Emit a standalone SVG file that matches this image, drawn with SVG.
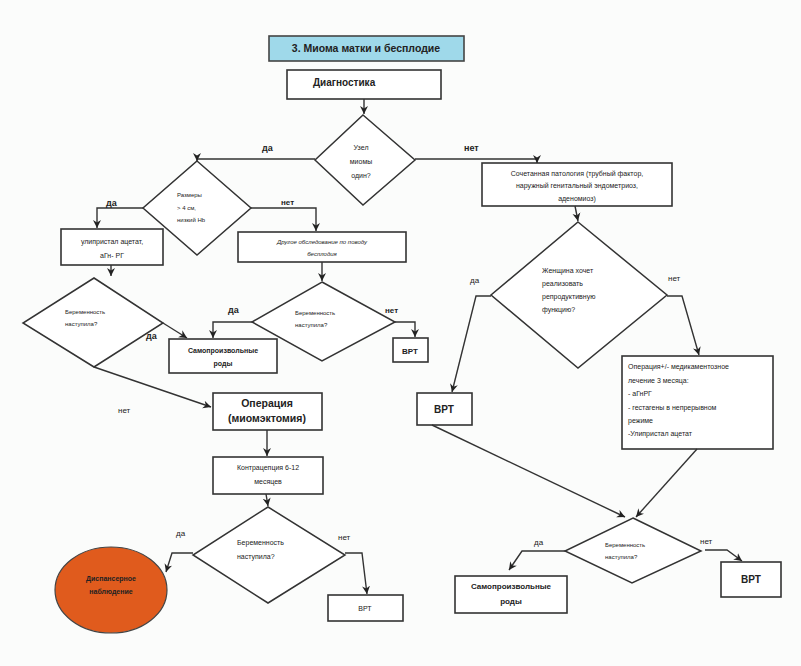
<svg xmlns="http://www.w3.org/2000/svg" width="801" height="666" viewBox="0 0 801 666">
<defs>
<marker id="arr" markerUnits="userSpaceOnUse" markerWidth="9" markerHeight="9" refX="8" refY="4.5" orient="auto">
<path d="M0,0.5 L8,4.5 L0,8.5 L2.5,4.5 z" fill="#222"/>
</marker>
<style>
.bx{fill:#fff;stroke:#333;stroke-width:1.6}
.dm{fill:#fff;stroke:#333;stroke-width:1.5}
.ln{fill:none;stroke:#333;stroke-width:1.4}
.ar{fill:none;stroke:#333;stroke-width:1.4;marker-end:url(#arr)}
text{font-family:"Liberation Sans","DejaVu Sans",sans-serif;fill:#222}
.t8{font-size:8px}
.t7{font-size:7px}
.t6{font-size:6px}
.b{font-weight:bold}
.c{text-anchor:middle}
</style>
</defs>
<rect width="801" height="666" fill="#fbfcfb"/>

<g id="title">
<rect x="269" y="36" width="195" height="25" fill="#9fd9ea" stroke="#444" stroke-width="1.6"/>
<text x="366" y="52" class="b c" font-size="10.5">3. Миома матки  и бесплодие</text>
</g>
<g id="diag">
<rect class="bx" x="287" y="70" width="154" height="29"/>
<text x="313" y="86" class="b" font-size="10">Диагностика</text>
</g>
<g id="d-uzel">
<polygon class="dm" points="363,115 415,160 363,205 315,160"/>
<text x="361" y="150" class="t7 c">Узел</text>
<text x="361" y="164" class="t7 c">миомы</text>
<text x="361" y="178" class="t7 c">один?</text>
</g>
<g id="d-razm">
<polygon class="dm" points="197,161 251,208 197,255 143,208"/>
<text x="177" y="197" class="t6">Размеры</text>
<text x="177" y="210" class="t6">&gt; 4 см,</text>
<text x="177" y="222" class="t6">низкий Hb</text>
</g>
<g id="b-ulip">
<rect class="bx" x="61" y="229" width="102" height="36"/>
<text x="112" y="244" class="t7 c">улипристал ацетат,</text>
<text x="112" y="258" class="t7 c">аГн- РГ</text>
</g>
<g id="b-drug">
<rect class="bx" x="238" y="232" width="168" height="30"/>
<text x="322" y="244" class="t6 c" font-style="italic">Другое обследование по поводу</text>
<text x="322" y="256" class="t6 c" font-style="italic">бесплодия</text>
</g>
<g id="d-ber1">
<polygon class="dm" points="94,278 163,323 94,367 23,323"/>
<text x="65" y="314" class="t6">Беременность</text>
<text x="65" y="326" class="t6">наступила?</text>
</g>
<g id="d-ber2">
<polygon class="dm" points="322,282 395,322 322,361 252,322"/>
<text x="295" y="315" class="t6">Беременность</text>
<text x="295" y="327" class="t6">наступила?</text>
</g>
<g id="b-samo1">
<rect class="bx" x="169" y="339" width="108" height="34"/>
<text x="223" y="353" class="t7 b c">Самопроизвольные</text>
<text x="223" y="366" class="t7 b c">роды</text>
</g>
<g id="b-vrt1">
<rect class="bx" x="393" y="338" width="35" height="24"/>
<text x="410" y="354" class="t8 b c">ВРТ</text>
</g>
<g id="b-oper">
<rect class="bx" x="213" y="393" width="109" height="37"/>
<text x="267" y="407" class="b c" font-size="10.5">Операция</text>
<text x="267" y="422" class="b c" font-size="10.5">(миомэктомия)</text>
</g>
<g id="b-kontr">
<rect class="bx" x="213" y="457" width="110" height="37"/>
<text x="268" y="470" class="t7 c">Контрацепция 6-12</text>
<text x="268" y="484" class="t7 c">месяцев</text>
</g>
<g id="d-ber3">
<polygon class="dm" points="268,507 345,555 268,603 193,555"/>
<text x="237" y="545" class="t7">Беременность</text>
<text x="237" y="559" class="t7">наступила?</text>
</g>
<g id="e-disp">
<ellipse cx="111" cy="590" rx="56" ry="43" fill="#e05b1d" stroke="#444" stroke-width="1.2"/>
<text x="111" y="581" class="t7 b c">Диспансерное</text>
<text x="111" y="594" class="t7 b c">наблюдение</text>
</g>
<g id="b-vrt3">
<rect class="bx" x="328" y="595" width="75" height="26"/>
<text x="365" y="611" class="t7 c">ВРТ</text>
</g>
<g id="b-soch">
<rect class="bx" x="482" y="163" width="190" height="43"/>
<text x="577" y="176" class="t7 c">Сочетанная патология (трубный фактор,</text>
<text x="577" y="188" class="t7 c">наружный генитальный эндометриоз,</text>
<text x="577" y="201" class="t7 c">аденомиоз)</text>
</g>
<g id="d-zhen">
<polygon class="dm" points="578,222 667,295 578,368 491,295"/>
<text x="542" y="273" class="t7">Женщина хочет</text>
<text x="542" y="286" class="t7">реализовать</text>
<text x="542" y="299" class="t7">репродуктивную</text>
<text x="542" y="312" class="t7">функцию?</text>
</g>
<g id="b-vrt2">
<rect class="bx" x="417" y="393" width="55" height="32"/>
<text x="444" y="413" class="b c" font-size="10">ВРТ</text>
</g>
<g id="b-operlek">
<rect class="bx" x="622" y="356" width="151" height="93"/>
<text x="628" y="369" class="t7">Операция+/- медикаментозное</text>
<text x="628" y="383" class="t7">лечение 3 месяца:</text>
<text x="628" y="396" class="t7">- аГнРГ</text>
<text x="628" y="410" class="t7">- гестагены в непрерывном</text>
<text x="628" y="423" class="t7">режиме</text>
<text x="628" y="436" class="t7">-Улипристал ацетат</text>
</g>
<g id="d-ber4">
<polygon class="dm" points="633,518 701,551 632,583 565,551"/>
<text x="605" y="547" class="t6">Беременность</text>
<text x="605" y="559" class="t6">наступила?</text>
</g>
<g id="b-samo2">
<rect class="bx" x="455" y="576" width="112" height="37"/>
<text x="511" y="589" class="t8 b c">Самопроизвольные</text>
<text x="511" y="604" class="t8 b c">роды</text>
</g>
<g id="b-vrt4">
<rect class="bx" x="721" y="562" width="60" height="35"/>
<text x="751" y="583" class="b c" font-size="10">ВРТ</text>
</g>

<g id="connectors">
<path class="ar" d="M364,99 V114"/>
<path class="ar" d="M315,159 H197 V161"/>
<path class="ar" d="M415,159 H537 V163"/>
<path class="ar" d="M143,208 H97 V228"/>
<path class="ar" d="M251,208 H316 V231"/>
<path class="ar" d="M111,265 V276"/>
<path class="ar" d="M163,323 L187,338"/>
<path class="ar" d="M322,262 V281"/>
<path class="ar" d="M252,322 H213 V338"/>
<path class="ar" d="M395,322 H415 V337"/>
<path class="ar" d="M94,367 L211,407"/>
<path class="ar" d="M267,430 V456"/>
<path class="ar" d="M266,494 L268,506"/>
<path class="ar" d="M193,553 H172 L166,572"/>
<path class="ar" d="M345,553 H362 L367,594"/>
<path class="ar" d="M575,206 L578,221"/>
<path class="ar" d="M491,296 H476 L452,392"/>
<path class="ar" d="M667,296 H682 L699,355"/>
<path class="ar" d="M432,425 L625,517"/>
<path class="ar" d="M697,449 L636,517"/>
<path class="ar" d="M565,551 H522 L509,570"/>
<path class="ar" d="M705,550 H727 L742,561"/>
</g>
<g id="labels">
<text x="262" y="151" class="b" font-size="9">да</text>
<text x="464" y="151" class="b" font-size="9">нет</text>
<text x="106" y="206" class="b" font-size="9">да</text>
<text x="281" y="205" class="b" font-size="8">нет</text>
<text x="228" y="313" class="b" font-size="9">да</text>
<text x="385" y="313" class="b" font-size="8">нет</text>
<text x="146" y="339" class="b" font-size="9">да</text>
<text x="118" y="413" class="t8">нет</text>
<text x="176" y="536" class="t8">да</text>
<text x="338" y="540" class="t8">нет</text>
<text x="470" y="283" class="t8">да</text>
<text x="668" y="281" class="t8">нет</text>
<text x="534" y="545" class="t8">да</text>
<text x="700" y="544" class="t8">нет</text>
</g>
</svg>
